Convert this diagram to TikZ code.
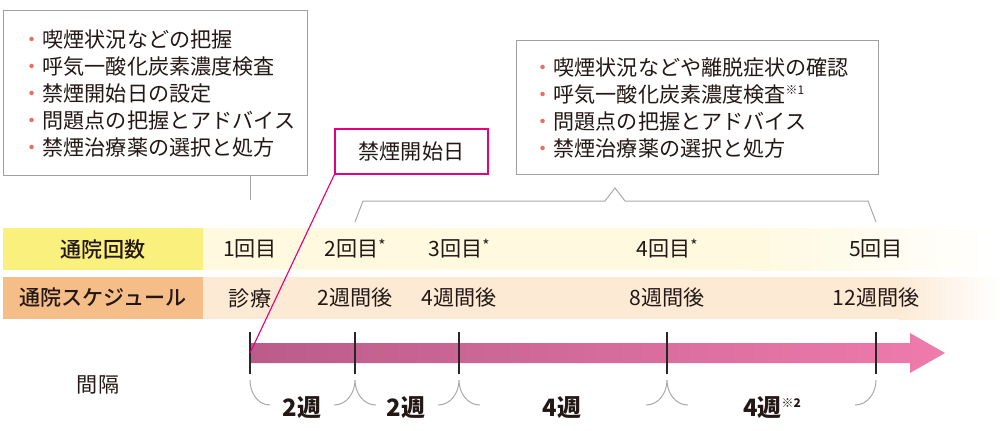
\documentclass[tikz,border=0pt]{standalone}
\usepackage{fontspec}
\setmainfont{Noto Sans CJK JP}
\newfontfamily\medfont{Noto Sans CJK JP Medium}
\usetikzlibrary{positioning}

\definecolor{txtgray}{HTML}{231815}
\definecolor{boxgray}{HTML}{A0A0A0}
\definecolor{linegray}{HTML}{A8A8A8}
\definecolor{dotred}{HTML}{E8705F}
\definecolor{startpink}{HTML}{E4007F}
\definecolor{yelhead}{HTML}{FAF07E}
\definecolor{yelband}{HTML}{FFF9DF}
\definecolor{orahead}{HTML}{F5BD88}
\definecolor{oraband}{HTML}{FDEAD5}
\definecolor{arrowL}{HTML}{BA5C8A}
\definecolor{arrowR}{HTML}{EF7BAC}

\newcommand{\dotmark}{{\color{dotred}・}}
\newcommand{\smallnote}[1]{\raisebox{0.7ex}{\fontsize{8.5}{8.5}\selectfont #1}}
\newcommand{\visitmark}{\raisebox{0.45ex}{\fontsize{11}{11}\selectfont *}}

\begin{document}
\begin{tikzpicture}[x=0.025cm,y=-0.025cm,font=\fontsize{15}{19.2}\selectfont,text=txtgray]

\tikzstyle{memo}=[rectangle,draw=boxgray,line width=0.8pt,anchor=north west,align=left,fill=white]
\tikzstyle{rowlab}=[rectangle,minimum width=5cm,minimum height=1.05cm,inner sep=0pt]
\tikzstyle{tick}=[draw=black!85,line width=1pt]
\tikzstyle{hook}=[draw=linegray,line width=0.7pt]
\tikzstyle{wk}=[font=\fontsize{17}{17}\selectfont\bfseries]

\useasboundingbox (0,0) rectangle (1000,430);

% bands
\fill[yelband] (203,228) rectangle (750,270);
\shade[left color=yelband,right color=white] (749,228) rectangle (1000,270);
\fill[oraband] (203,277) rectangle (900,319);
\shade[left color=oraband,right color=white] (899,277) rectangle (1000,319);

\node[rowlab,fill=yelhead] (kaisu) at (103,249) {\medfont 通院回数};
\node[rowlab,fill=orahead] (sched) at (103,298) {\medfont 通院スケジュール};

% memo boxes
\node[memo,minimum width=7.6cm,minimum height=4.125cm,text width=6.7cm,inner xsep=0.45cm] (memoA) at (3,10)
  {\dotmark 喫煙状況などの把握\\
   \dotmark 呼気一酸化炭素濃度検査\\
   \dotmark 禁煙開始日の設定\\
   \dotmark 問題点の把握とアドバイス\\
   \dotmark 禁煙治療薬の選択と処方};

\node[memo,minimum width=9.05cm,minimum height=3.35cm,text width=8.25cm,inner xsep=0.4cm] (memoB) at (516,40)
  {\dotmark 喫煙状況などや離脱症状の確認\\
   \dotmark 呼気一酸化炭素濃度検査\smallnote{※1}\\
   \dotmark 問題点の把握とアドバイス\\
   \dotmark 禁煙治療薬の選択と処方};

\node[draw=startpink,line width=1pt,minimum width=3.825cm,minimum height=1.125cm] (start) at (411.5,151.5) {禁煙開始日};

% visits
\foreach \x/\a/\b [count=\i] in {250/1回目/診療, 355/{2回目\visitmark}/2週間後, 459/{3回目\visitmark}/4週間後,
                                  667/{4回目\visitmark}/8週間後, 876/5回目/12週間後} {
  \node (v\i) at (\x,249) {\a};
  \node (s\i) at (\x,298) {\b};
  \coordinate (t\i) at (\x,353);
}

% brace over visits 2-5
\draw[linegray,line width=0.7pt] (355,222) -- (363,201) -- (605,201) -- (615,188) -- (625,201) -- (868,201) -- (876,222);

\coordinate (c1) at (250,200);
\draw[linegray,line width=0.7pt] (memoA.south -| c1) -- (c1);

% arrow
\shade[left color=arrowL,right color=arrowR] (250,343) -- (910,343) -- (910,333) -- (945,353)
  -- (910,373) -- (910,363) -- (250,363) -- cycle;

\foreach \i in {1,...,5}
  \draw[tick] ([yshift=0.525cm]t\i) -- ([yshift=-0.525cm]t\i);

\draw[startpink,line width=0.8pt] (start.south west) -- (t1);

% intervals
\draw[hook] (250,380) to[out=-90,in=180] (270,405);
\foreach \x in {355,459,667}
  \draw[hook] (\x-21,405) to[out=0,in=-90] (\x,380) to[out=-90,in=180] (\x+21,405);
\draw[hook] (876,380) to[out=-90,in=0] (855,405);

\node (kankaku) at (98,385) {間隔};
\node[wk] (w1) at (302,408) {2週};
\node[wk] (w2) at (406,408) {2週};
\node[wk] (w3) at (562,408) {4週};
\node[wk] (w4) at (772,408) {4週\smallnote{※2}};

\end{tikzpicture}
\end{document}
